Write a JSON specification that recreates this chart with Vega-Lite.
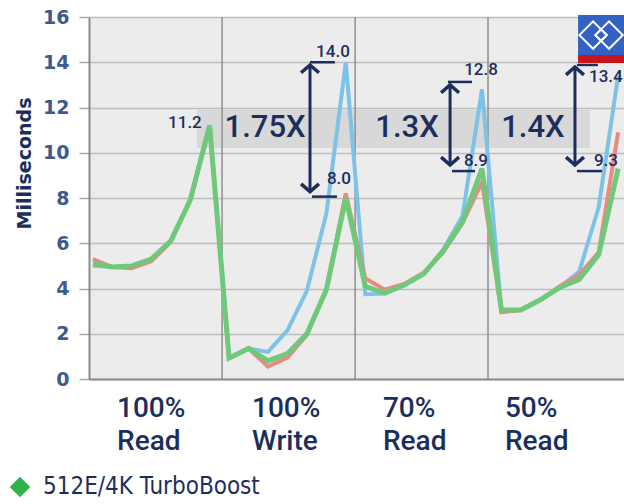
{
  "$schema": "https://vega.github.io/schema/vega-lite/v6.json",
  "width": 535,
  "height": 362,
  "autosize": {"type": "none"},
  "padding": {"left": 89, "top": 17, "right": 0, "bottom": 125},
  "background": "white",
  "view": {"fill": "#ececec", "stroke": null},
  "datasets": {
    "lines": [
      {"i": 0, "series": "512N", "ms": 5.0}, {"i": 1, "series": "512N", "ms": 4.95}, {"i": 2, "series": "512N", "ms": 5.0}, {"i": 3, "series": "512N", "ms": 5.3}, {"i": 4, "series": "512N", "ms": 6.1}, {"i": 5, "series": "512N", "ms": 7.9}, {"i": 6, "series": "512N", "ms": 11.2},
      {"i": 7, "series": "512N", "ms": 0.92}, {"i": 8, "series": "512N", "ms": 1.35}, {"i": 9, "series": "512N", "ms": 1.2}, {"i": 10, "series": "512N", "ms": 2.15}, {"i": 11, "series": "512N", "ms": 3.9}, {"i": 12, "series": "512N", "ms": 7.3}, {"i": 13, "series": "512N", "ms": 14.0},
      {"i": 14, "series": "512N", "ms": 3.75}, {"i": 15, "series": "512N", "ms": 3.78}, {"i": 16, "series": "512N", "ms": 4.15}, {"i": 17, "series": "512N", "ms": 4.65}, {"i": 18, "series": "512N", "ms": 5.7}, {"i": 19, "series": "512N", "ms": 7.2}, {"i": 20, "series": "512N", "ms": 12.8},
      {"i": 21, "series": "512N", "ms": 3.0}, {"i": 22, "series": "512N", "ms": 3.05}, {"i": 23, "series": "512N", "ms": 3.5}, {"i": 24, "series": "512N", "ms": 4.05}, {"i": 25, "series": "512N", "ms": 4.75}, {"i": 26, "series": "512N", "ms": 7.6}, {"i": 27, "series": "512N", "ms": 13.4},
      {"i": 0, "series": "512E/4K", "ms": 5.3}, {"i": 1, "series": "512E/4K", "ms": 4.95}, {"i": 2, "series": "512E/4K", "ms": 4.9}, {"i": 3, "series": "512E/4K", "ms": 5.2}, {"i": 4, "series": "512E/4K", "ms": 6.05}, {"i": 5, "series": "512E/4K", "ms": 7.9}, {"i": 6, "series": "512E/4K", "ms": 11.2},
      {"i": 7, "series": "512E/4K", "ms": 0.92}, {"i": 8, "series": "512E/4K", "ms": 1.35}, {"i": 9, "series": "512E/4K", "ms": 0.55}, {"i": 10, "series": "512E/4K", "ms": 0.95}, {"i": 11, "series": "512E/4K", "ms": 1.95}, {"i": 12, "series": "512E/4K", "ms": 3.95}, {"i": 13, "series": "512E/4K", "ms": 8.2},
      {"i": 14, "series": "512E/4K", "ms": 4.45}, {"i": 15, "series": "512E/4K", "ms": 3.95}, {"i": 16, "series": "512E/4K", "ms": 4.2}, {"i": 17, "series": "512E/4K", "ms": 4.7}, {"i": 18, "series": "512E/4K", "ms": 5.6}, {"i": 19, "series": "512E/4K", "ms": 6.9}, {"i": 20, "series": "512E/4K", "ms": 8.7},
      {"i": 21, "series": "512E/4K", "ms": 2.95}, {"i": 22, "series": "512E/4K", "ms": 3.05}, {"i": 23, "series": "512E/4K", "ms": 3.5}, {"i": 24, "series": "512E/4K", "ms": 4.1}, {"i": 25, "series": "512E/4K", "ms": 4.6}, {"i": 26, "series": "512E/4K", "ms": 5.6}, {"i": 27, "series": "512E/4K", "ms": 10.9},
      {"i": 0, "series": "512E/4K TurboBoost", "ms": 5.1}, {"i": 1, "series": "512E/4K TurboBoost", "ms": 4.95}, {"i": 2, "series": "512E/4K TurboBoost", "ms": 5.0}, {"i": 3, "series": "512E/4K TurboBoost", "ms": 5.3}, {"i": 4, "series": "512E/4K TurboBoost", "ms": 6.1}, {"i": 5, "series": "512E/4K TurboBoost", "ms": 7.9}, {"i": 6, "series": "512E/4K TurboBoost", "ms": 11.2},
      {"i": 7, "series": "512E/4K TurboBoost", "ms": 0.92}, {"i": 8, "series": "512E/4K TurboBoost", "ms": 1.35}, {"i": 9, "series": "512E/4K TurboBoost", "ms": 0.8}, {"i": 10, "series": "512E/4K TurboBoost", "ms": 1.12}, {"i": 11, "series": "512E/4K TurboBoost", "ms": 2.0}, {"i": 12, "series": "512E/4K TurboBoost", "ms": 3.95}, {"i": 13, "series": "512E/4K TurboBoost", "ms": 8.0},
      {"i": 14, "series": "512E/4K TurboBoost", "ms": 4.1}, {"i": 15, "series": "512E/4K TurboBoost", "ms": 3.8}, {"i": 16, "series": "512E/4K TurboBoost", "ms": 4.15}, {"i": 17, "series": "512E/4K TurboBoost", "ms": 4.65}, {"i": 18, "series": "512E/4K TurboBoost", "ms": 5.65}, {"i": 19, "series": "512E/4K TurboBoost", "ms": 6.95}, {"i": 20, "series": "512E/4K TurboBoost", "ms": 9.3},
      {"i": 21, "series": "512E/4K TurboBoost", "ms": 3.05}, {"i": 22, "series": "512E/4K TurboBoost", "ms": 3.05}, {"i": 23, "series": "512E/4K TurboBoost", "ms": 3.5}, {"i": 24, "series": "512E/4K TurboBoost", "ms": 4.05}, {"i": 25, "series": "512E/4K TurboBoost", "ms": 4.4}, {"i": 26, "series": "512E/4K TurboBoost", "ms": 5.5}, {"i": 27, "series": "512E/4K TurboBoost", "ms": 9.3}
    ],
    "separators": [{"x": 6.64}, {"x": 13.48}, {"x": 20.31}],
    "band": [{"from": 5.35, "to": 25.55, "low": 10.21, "high": 11.89}],
    "arrows": [
      {"x": 11.16, "hi": 13.88, "lo": 8.28},
      {"x": 18.36, "hi": 13.0, "lo": 9.46},
      {"x": 24.78, "hi": 13.79, "lo": 9.46}
    ],
    "bars": [
      {"x1": 11.16, "x2": 12.44, "y": 14.0},
      {"x1": 11.26, "x2": 12.55, "y": 8.06},
      {"x1": 18.25, "x2": 19.49, "y": 13.13},
      {"x1": 18.46, "x2": 19.64, "y": 9.19},
      {"x1": 24.88, "x2": 25.96, "y": 13.88},
      {"x1": 24.88, "x2": 26.17, "y": 9.19}
    ],
    "values": [
      {"x": 12.34, "y": 14.45, "t": "14.0"},
      {"x": 12.65, "y": 8.86, "t": "8.0"},
      {"x": 19.95, "y": 13.66, "t": "12.8"},
      {"x": 19.69, "y": 9.64, "t": "8.9"},
      {"x": 26.37, "y": 13.35, "t": "13.4"},
      {"x": 26.37, "y": 9.64, "t": "9.3"},
      {"x": 4.73, "y": 11.31, "t": "11.2"}
    ],
    "ratios": [
      {"x": 8.85, "y": 11.09, "t": "1.75X"},
      {"x": 16.15, "y": 11.09, "t": "1.3X"},
      {"x": 22.62, "y": 11.09, "t": "1.4X"}
    ],
    "logo": [
      {"x1": 24.94, "x2": 27.3, "y1": 14.32, "y2": 16.09, "part": "blue"},
      {"x1": 24.94, "x2": 27.3, "y1": 13.97, "y2": 14.32, "part": "red"}
    ],
    "logomarks": [
      {"x": 25.71, "y": 15.2, "s": 750},
      {"x": 26.53, "y": 15.2, "s": 750},
      {"x": 26.12, "y": 15.2, "s": 130}
    ],
    "cats": [
      {"x": 1.24, "t": "100%\nRead"},
      {"x": 8.18, "t": "100%\nWrite"},
      {"x": 14.91, "t": "70%\nRead"},
      {"x": 21.18, "t": "50%\nRead"}
    ]
  },
  "layer": [
    {
      "data": {"name": "band"},
      "mark": {"type": "rect", "fill": "#d2d2d2", "opacity": 0.75},
      "encoding": {
        "x": {"field": "from", "type": "quantitative", "scale": {"domain": [-0.2, 27.3], "nice": false, "zero": false}},
        "x2": {"field": "to"},
        "y": {"field": "low", "type": "quantitative", "scale": {"domain": [0, 16], "nice": false}},
        "y2": {"field": "high"}
      }
    },
    {
      "data": {"name": "separators"},
      "mark": {"type": "rule", "stroke": "#8f8f8f", "strokeWidth": 1.5},
      "encoding": {
        "x": {"field": "x", "type": "quantitative"}
      }
    },
    {
      "data": {"name": "lines"},
      "transform": [{"filter": "datum.series === '512N'"}],
      "mark": {"type": "line", "color": "#7cc3e7", "strokeWidth": 4},
      "encoding": {
        "x": {"field": "i", "type": "quantitative", "axis": {"title": null, "labels": false, "ticks": false, "grid": false, "domain": true, "domainColor": "#8a8a8a", "domainWidth": 2}},
        "y": {"field": "ms", "type": "quantitative", "axis": {
          "title": "Milliseconds", "values": [0, 2, 4, 6, 8, 10, 12, 14, 16],
          "grid": true, "gridColor": "#bdbdbd", "gridWidth": 1.5,
          "domain": true, "domainColor": "#8a8a8a", "domainWidth": 2,
          "tickColor": "#a8a8a8", "tickSize": 10, "tickWidth": 1.5,
          "labelFont": "DejaVu Sans", "labelFontWeight": "bold", "labelFontSize": 19, "labelColor": "#3d5b8c", "labelPadding": 10,
          "titleFont": "DejaVu Sans", "titleFontWeight": "bold", "titleFontSize": 19, "titleColor": "#1c2f5c",
          "titleX": -65, "titleY": 146, "titleAngle": -90, "titleAlign": "center", "titleBaseline": "middle"
        }},
        "order": {"field": "i"}
      }
    },
    {
      "data": {"name": "lines"},
      "transform": [{"filter": "datum.series === '512E/4K'"}],
      "mark": {"type": "line", "color": "#e98a82", "strokeWidth": 4},
      "encoding": {
        "x": {"field": "i", "type": "quantitative"},
        "y": {"field": "ms", "type": "quantitative"},
        "order": {"field": "i"}
      }
    },
    {
      "data": {"name": "lines"},
      "transform": [{"filter": "datum.series === '512E/4K TurboBoost'"}],
      "mark": {"type": "line", "strokeWidth": 5},
      "encoding": {
        "x": {"field": "i", "type": "quantitative"},
        "y": {"field": "ms", "type": "quantitative"},
        "order": {"field": "i"},
        "color": {"field": "series", "type": "nominal", "scale": {"range": ["#6fc97b"]},
          "legend": {
            "orient": "none", "legendX": -81, "legendY": 458, "title": null, "padding": 0,
            "symbolType": "diamond", "symbolSize": 420, "symbolFillColor": "#2db34a", "symbolStrokeWidth": 0, "symbolOpacity": 1,
            "labelFont": "DejaVu Sans Condensed", "labelFontWeight": "normal", "labelFontSize": 24, "labelColor": "#1c2f5c", "labelOffset": 11, "labelLimit": 0,
            "encode": {"symbols": {"update": {"fill": {"value": "#2db34a"}, "stroke": {"value": "#2db34a"}, "opacity": {"value": 1}}}}
          }
        }
      }
    },
    {
      "data": {"name": "arrows"},
      "mark": {"type": "rule", "stroke": "#1c2f5c", "strokeWidth": 3},
      "encoding": {
        "x": {"field": "x", "type": "quantitative"},
        "y": {"field": "hi", "type": "quantitative"},
        "y2": {"field": "lo"}
      }
    },
    {
      "data": {"name": "arrows"},
      "mark": {"type": "point", "shape": "M-0.8,0.7L0,0L0.8,0.7", "filled": false, "stroke": "#1c2f5c", "strokeWidth": 3.5, "size": 500, "opacity": 1},
      "encoding": {
        "x": {"field": "x", "type": "quantitative"},
        "y": {"field": "hi", "type": "quantitative"}
      }
    },
    {
      "data": {"name": "arrows"},
      "mark": {"type": "point", "shape": "M-0.8,-0.7L0,0L0.8,-0.7", "filled": false, "stroke": "#1c2f5c", "strokeWidth": 3.5, "size": 500, "opacity": 1},
      "encoding": {
        "x": {"field": "x", "type": "quantitative"},
        "y": {"field": "lo", "type": "quantitative"}
      }
    },
    {
      "data": {"name": "bars"},
      "mark": {"type": "rule", "stroke": "#1c2f5c", "strokeWidth": 2.5},
      "encoding": {
        "x": {"field": "x1", "type": "quantitative"},
        "x2": {"field": "x2"},
        "y": {"field": "y", "type": "quantitative"}
      }
    },
    {
      "data": {"name": "values"},
      "mark": {"type": "text", "font": "Roboto", "fontSize": 17, "fontWeight": 500, "color": "#1c2f5c", "align": "center", "baseline": "middle"},
      "encoding": {
        "x": {"field": "x", "type": "quantitative"},
        "y": {"field": "y", "type": "quantitative"},
        "text": {"field": "t"}
      }
    },
    {
      "data": {"name": "ratios"},
      "mark": {"type": "text", "font": "Roboto", "fontSize": 31, "fontWeight": 500, "color": "#1c2f5c", "align": "center", "baseline": "middle"},
      "encoding": {
        "x": {"field": "x", "type": "quantitative"},
        "y": {"field": "y", "type": "quantitative"},
        "text": {"field": "t"}
      }
    },
    {
      "data": {"name": "logo"},
      "mark": {"type": "rect"},
      "encoding": {
        "x": {"field": "x1", "type": "quantitative"},
        "x2": {"field": "x2"},
        "y": {"field": "y1", "type": "quantitative"},
        "y2": {"field": "y2"},
        "fill": {"field": "part", "type": "nominal", "scale": {"domain": ["blue", "red"], "range": ["#3462c2", "#c8161e"]}, "legend": null}
      }
    },
    {
      "data": {"name": "logomarks"},
      "mark": {"type": "point", "shape": "diamond", "filled": false, "stroke": "white", "strokeWidth": 2, "opacity": 1},
      "encoding": {
        "x": {"field": "x", "type": "quantitative"},
        "y": {"field": "y", "type": "quantitative"},
        "size": {"field": "s", "type": "quantitative", "scale": {"type": "linear", "domain": [0, 1000], "range": [0, 1000], "zero": true}, "legend": null}
      }
    },
    {
      "data": {"name": "cats"},
      "mark": {"type": "text", "font": "Roboto", "fontSize": 28, "fontWeight": 500, "color": "#1c2f5c", "align": "left", "baseline": "alphabetic", "lineBreak": "\n", "lineHeight": 33},
      "encoding": {
        "x": {"field": "x", "type": "quantitative"},
        "y": {"datum": -1.68, "type": "quantitative"},
        "text": {"field": "t"}
      }
    }
  ]
}
